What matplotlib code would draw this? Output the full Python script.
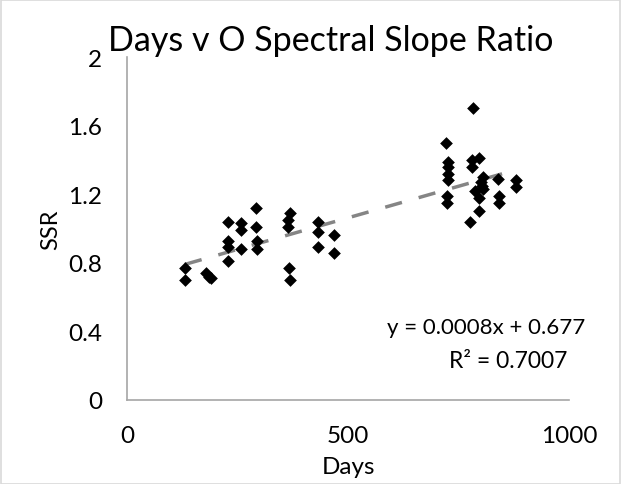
import numpy as np
import matplotlib.pyplot as plt
from matplotlib.patches import Rectangle

plt.rcParams['font.family'] = ['Lato', 'DejaVu Sans']

# values
days = [131, 131, 179, 186, 190,
        229, 229, 229, 229, 257, 257, 257, 291, 291, 293, 293,
        369, 365, 365, 367, 369, 433, 433, 433, 468, 468,
        721, 727, 727, 727, 727, 723, 723,
        782, 795, 780, 780, 800, 805, 787, 806, 795, 802, 797, 776,
        840, 880, 880, 842, 842]
ssr = [0.77, 0.70, 0.74, 0.72, 0.71,
       1.04, 0.93, 0.89, 0.81, 1.03, 0.99, 0.88, 1.12, 1.01, 0.93, 0.88,
       1.09, 1.05, 1.01, 0.77, 0.70, 1.04, 0.98, 0.89, 0.96, 0.86,
       1.50, 1.39, 1.36, 1.32, 1.28, 1.19, 1.15,
       1.70, 1.41, 1.40, 1.36, 1.27, 1.30, 1.22, 1.23, 1.18, 1.25, 1.10, 1.04,
       1.29, 1.28, 1.24, 1.19, 1.15]

x_ticks = [0, 500, 1000]
y_ticks = [0, 0.4, 0.8, 1.2, 1.6, 2]
y_labels = ['0', '0.4', '0.8', '1.2', '1.6', '2']
eq_text = 'y = 0.0008x + 0.677'
r2_text = 'R² = 0.7007'

fig = plt.figure(figsize=(6.21, 4.85), dpi=100)
fig.patches.append(Rectangle((0.001, 0.001), 0.997, 0.996, transform=fig.transFigure,
                             fill=False, edgecolor='#d9d9d9', linewidth=1.2))
ax = fig.add_axes([0.2045, 0.1732, 0.712, 0.7072])

ax.scatter(days, ssr, marker='D', s=42, color='black', linewidths=0, zorder=3)

# linear trendline like excel
k, b = np.polyfit(days, ssr, 1)
xs = np.array([min(days), max(days)])
ax.plot(xs, k * xs + b, color='#858585', lw=2.5, dashes=(5, 5), zorder=2)

ax.set_xlim(0, 1000)
ax.set_ylim(0, 2)
ax.set_xticks(x_ticks)
ax.set_xticklabels([str(v) for v in x_ticks])
ax.set_yticks(y_ticks)
ax.set_yticklabels(y_labels)
ax.tick_params(length=0, labelsize=17.5, colors='black')
ax.tick_params(axis='x', pad=18)
ax.tick_params(axis='y', pad=18)
for s in ['top', 'right']:
    ax.spines[s].set_visible(False)
for s in ['left', 'bottom']:
    ax.spines[s].set_color('#a6a6a6')
    ax.spines[s].set_linewidth(1.2)

ax.set_xlabel('Days', fontsize=17.5, labelpad=7)
ax.set_ylabel('SSR', fontsize=17)
ax.yaxis.set_label_coords(-0.148, 0.5)
fig.text(0.532, 0.894, 'Days v O Spectral Slope Ratio', fontsize=24.5,
         ha='center', va='baseline')

ax.text(0.812, 0.213, eq_text, transform=ax.transAxes, fontsize=16,
        ha='center', va='center')
ax.text(0.862, 0.114, r2_text, transform=ax.transAxes, fontsize=16.5,
        ha='center', va='center')

fig.savefig('out.png', dpi=100)
